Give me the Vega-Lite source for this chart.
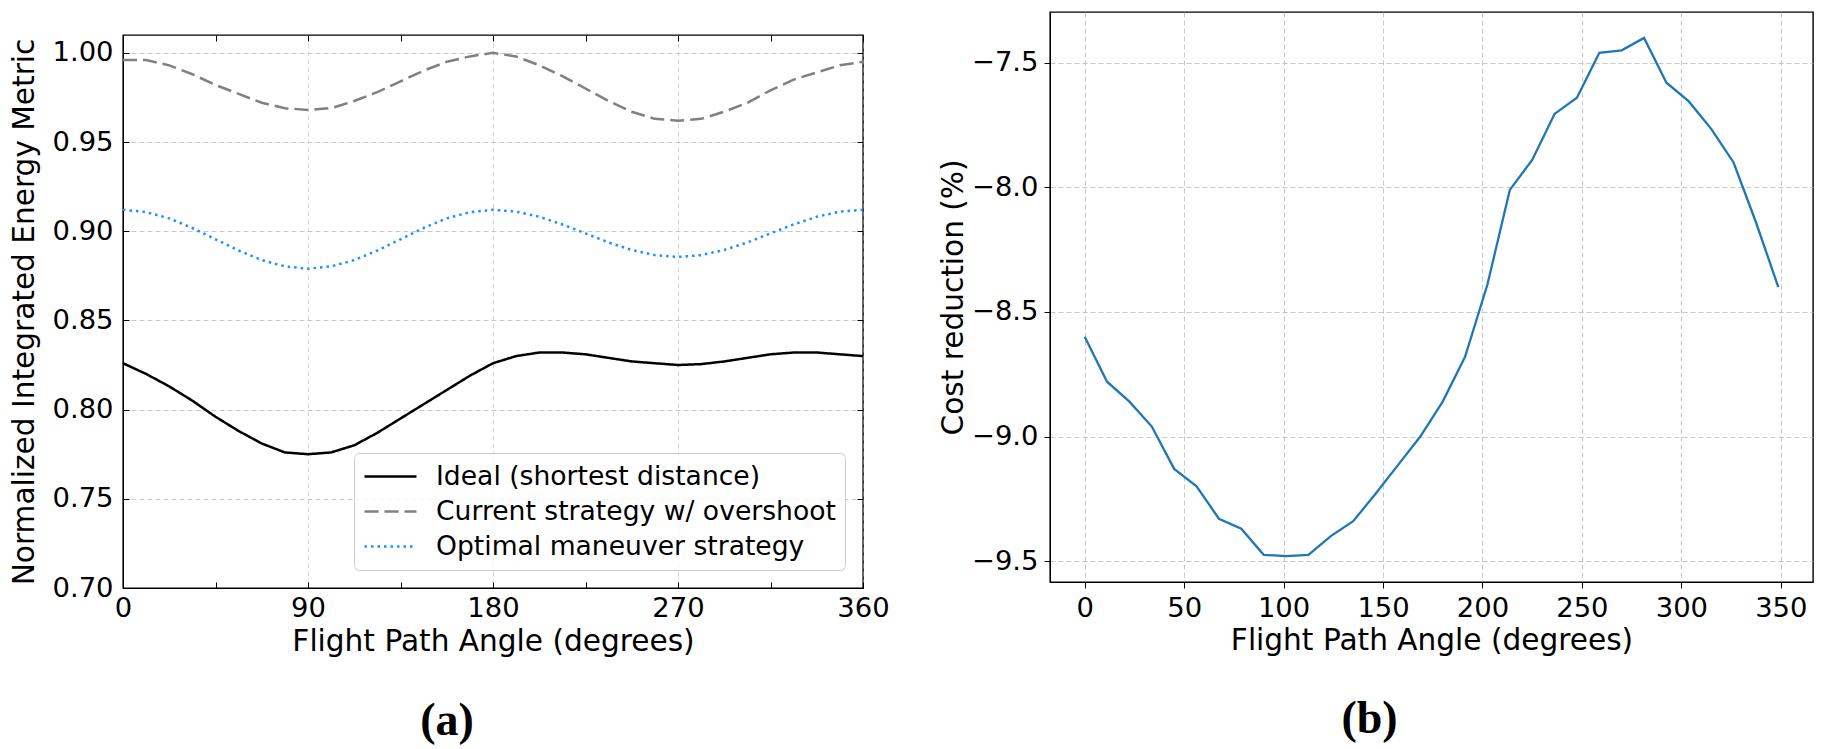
{
  "$schema": "https://vega.github.io/schema/vega-lite/v6.json",
  "background": "white",
  "padding": {"left": 8, "top": 11, "right": 0, "bottom": 0},
  "spacing": 47,
  "config": {
    "font": "DejaVu Sans",
    "view": {"stroke": "black", "strokeWidth": 1.4},
    "axis": {
      "labelFont": "DejaVu Sans",
      "titleFont": "DejaVu Sans",
      "labelFontSize": 27.4,
      "titleFontSize": 29.6,
      "titleFontWeight": "normal",
      "labelColor": "black",
      "titleColor": "black",
      "tickColor": "black",
      "domainColor": "black",
      "gridColor": "#b0b0b0",
      "gridDash": [5, 3],
      "gridOpacity": 0.7,
      "labelFlush": false,
      "labelOverlap": false
    },
    "legend": {
      "title": null,
      "orient": "none",
      "legendX": 231,
      "legendY": 441,
      "symbolType": "M-2,0H2",
      "symbolSize": 676,
      "symbolOffset": 13,
      "symbolStrokeWidth": 2.5,
      "labelFont": "DejaVu Sans",
      "labelFontSize": 26.6,
      "labelColor": "black",
      "labelOffset": 31,
      "labelLimit": 600,
      "rowPadding": 6,
      "padding": 9,
      "fillColor": "rgba(255,255,255,0.8)",
      "strokeColor": "#cccccc",
      "cornerRadius": 5
    }
  },
  "hconcat": [
    {
      "spacing": 0,
      "vconcat": [
        {
          "width": 740,
          "height": 21,
          "view": {"stroke": null},
          "data": {"values": [{}]},
          "mark": {"type": "point", "opacity": 0}
        },
        {
          "width": 740,
          "height": 553,
          "title": {"text": "(a)", "orient": "bottom", "font": "Liberation Serif", "fontWeight": "bold", "fontSize": 46, "offset": 43, "dx": -46, "color": "black"},
          "data": {
            "values": [
              {"angle": 0, "series": "Ideal (shortest distance)", "value": 0.826},
              {"angle": 11.25, "series": "Ideal (shortest distance)", "value": 0.820},
              {"angle": 22.5, "series": "Ideal (shortest distance)", "value": 0.813},
              {"angle": 33.75, "series": "Ideal (shortest distance)", "value": 0.805},
              {"angle": 45, "series": "Ideal (shortest distance)", "value": 0.796},
              {"angle": 56.25, "series": "Ideal (shortest distance)", "value": 0.788},
              {"angle": 67.5, "series": "Ideal (shortest distance)", "value": 0.781},
              {"angle": 78.75, "series": "Ideal (shortest distance)", "value": 0.776},
              {"angle": 90, "series": "Ideal (shortest distance)", "value": 0.775},
              {"angle": 101.25, "series": "Ideal (shortest distance)", "value": 0.776},
              {"angle": 112.5, "series": "Ideal (shortest distance)", "value": 0.780},
              {"angle": 123.75, "series": "Ideal (shortest distance)", "value": 0.787},
              {"angle": 135, "series": "Ideal (shortest distance)", "value": 0.795},
              {"angle": 146.25, "series": "Ideal (shortest distance)", "value": 0.803},
              {"angle": 157.5, "series": "Ideal (shortest distance)", "value": 0.811},
              {"angle": 168.75, "series": "Ideal (shortest distance)", "value": 0.819},
              {"angle": 180, "series": "Ideal (shortest distance)", "value": 0.826},
              {"angle": 191.25, "series": "Ideal (shortest distance)", "value": 0.830},
              {"angle": 202.5, "series": "Ideal (shortest distance)", "value": 0.832},
              {"angle": 213.75, "series": "Ideal (shortest distance)", "value": 0.832},
              {"angle": 225, "series": "Ideal (shortest distance)", "value": 0.831},
              {"angle": 236.25, "series": "Ideal (shortest distance)", "value": 0.829},
              {"angle": 247.5, "series": "Ideal (shortest distance)", "value": 0.827},
              {"angle": 258.75, "series": "Ideal (shortest distance)", "value": 0.826},
              {"angle": 270, "series": "Ideal (shortest distance)", "value": 0.825},
              {"angle": 281.25, "series": "Ideal (shortest distance)", "value": 0.8255},
              {"angle": 292.5, "series": "Ideal (shortest distance)", "value": 0.827},
              {"angle": 303.75, "series": "Ideal (shortest distance)", "value": 0.829},
              {"angle": 315, "series": "Ideal (shortest distance)", "value": 0.831},
              {"angle": 326.25, "series": "Ideal (shortest distance)", "value": 0.832},
              {"angle": 337.5, "series": "Ideal (shortest distance)", "value": 0.832},
              {"angle": 348.75, "series": "Ideal (shortest distance)", "value": 0.831},
              {"angle": 360, "series": "Ideal (shortest distance)", "value": 0.830},
              {"angle": 0, "series": "Current strategy w/ overshoot", "value": 0.996},
              {"angle": 11.25, "series": "Current strategy w/ overshoot", "value": 0.996},
              {"angle": 22.5, "series": "Current strategy w/ overshoot", "value": 0.993},
              {"angle": 33.75, "series": "Current strategy w/ overshoot", "value": 0.988},
              {"angle": 45, "series": "Current strategy w/ overshoot", "value": 0.982},
              {"angle": 56.25, "series": "Current strategy w/ overshoot", "value": 0.977},
              {"angle": 67.5, "series": "Current strategy w/ overshoot", "value": 0.972},
              {"angle": 78.75, "series": "Current strategy w/ overshoot", "value": 0.969},
              {"angle": 90, "series": "Current strategy w/ overshoot", "value": 0.968},
              {"angle": 101.25, "series": "Current strategy w/ overshoot", "value": 0.969},
              {"angle": 112.5, "series": "Current strategy w/ overshoot", "value": 0.973},
              {"angle": 123.75, "series": "Current strategy w/ overshoot", "value": 0.978},
              {"angle": 135, "series": "Current strategy w/ overshoot", "value": 0.984},
              {"angle": 146.25, "series": "Current strategy w/ overshoot", "value": 0.990},
              {"angle": 157.5, "series": "Current strategy w/ overshoot", "value": 0.995},
              {"angle": 168.75, "series": "Current strategy w/ overshoot", "value": 0.998},
              {"angle": 180, "series": "Current strategy w/ overshoot", "value": 1.000},
              {"angle": 191.25, "series": "Current strategy w/ overshoot", "value": 0.998},
              {"angle": 202.5, "series": "Current strategy w/ overshoot", "value": 0.993},
              {"angle": 213.75, "series": "Current strategy w/ overshoot", "value": 0.987},
              {"angle": 225, "series": "Current strategy w/ overshoot", "value": 0.980},
              {"angle": 236.25, "series": "Current strategy w/ overshoot", "value": 0.973},
              {"angle": 247.5, "series": "Current strategy w/ overshoot", "value": 0.967},
              {"angle": 258.75, "series": "Current strategy w/ overshoot", "value": 0.963},
              {"angle": 270, "series": "Current strategy w/ overshoot", "value": 0.962},
              {"angle": 281.25, "series": "Current strategy w/ overshoot", "value": 0.963},
              {"angle": 292.5, "series": "Current strategy w/ overshoot", "value": 0.967},
              {"angle": 303.75, "series": "Current strategy w/ overshoot", "value": 0.972},
              {"angle": 315, "series": "Current strategy w/ overshoot", "value": 0.979},
              {"angle": 326.25, "series": "Current strategy w/ overshoot", "value": 0.985},
              {"angle": 337.5, "series": "Current strategy w/ overshoot", "value": 0.989},
              {"angle": 348.75, "series": "Current strategy w/ overshoot", "value": 0.993},
              {"angle": 360, "series": "Current strategy w/ overshoot", "value": 0.995},
              {"angle": 0, "series": "Optimal maneuver strategy", "value": 0.9120},
              {"angle": 11.25, "series": "Optimal maneuver strategy", "value": 0.9107},
              {"angle": 22.5, "series": "Optimal maneuver strategy", "value": 0.9072},
              {"angle": 33.75, "series": "Optimal maneuver strategy", "value": 0.9018},
              {"angle": 45, "series": "Optimal maneuver strategy", "value": 0.8955},
              {"angle": 56.25, "series": "Optimal maneuver strategy", "value": 0.8892},
              {"angle": 67.5, "series": "Optimal maneuver strategy", "value": 0.8838},
              {"angle": 78.75, "series": "Optimal maneuver strategy", "value": 0.8803},
              {"angle": 90, "series": "Optimal maneuver strategy", "value": 0.8790},
              {"angle": 101.25, "series": "Optimal maneuver strategy", "value": 0.8803},
              {"angle": 112.5, "series": "Optimal maneuver strategy", "value": 0.8838},
              {"angle": 123.75, "series": "Optimal maneuver strategy", "value": 0.8892},
              {"angle": 135, "series": "Optimal maneuver strategy", "value": 0.8955},
              {"angle": 146.25, "series": "Optimal maneuver strategy", "value": 0.9018},
              {"angle": 157.5, "series": "Optimal maneuver strategy", "value": 0.9072},
              {"angle": 168.75, "series": "Optimal maneuver strategy", "value": 0.9107},
              {"angle": 180, "series": "Optimal maneuver strategy", "value": 0.9120},
              {"angle": 191.25, "series": "Optimal maneuver strategy", "value": 0.9110},
              {"angle": 202.5, "series": "Optimal maneuver strategy", "value": 0.9081},
              {"angle": 213.75, "series": "Optimal maneuver strategy", "value": 0.9038},
              {"angle": 225, "series": "Optimal maneuver strategy", "value": 0.8988},
              {"angle": 236.25, "series": "Optimal maneuver strategy", "value": 0.8937},
              {"angle": 247.5, "series": "Optimal maneuver strategy", "value": 0.8895},
              {"angle": 258.75, "series": "Optimal maneuver strategy", "value": 0.8866},
              {"angle": 270, "series": "Optimal maneuver strategy", "value": 0.8856},
              {"angle": 281.25, "series": "Optimal maneuver strategy", "value": 0.8866},
              {"angle": 292.5, "series": "Optimal maneuver strategy", "value": 0.8895},
              {"angle": 303.75, "series": "Optimal maneuver strategy", "value": 0.8937},
              {"angle": 315, "series": "Optimal maneuver strategy", "value": 0.8988},
              {"angle": 326.25, "series": "Optimal maneuver strategy", "value": 0.9038},
              {"angle": 337.5, "series": "Optimal maneuver strategy", "value": 0.9081},
              {"angle": 348.75, "series": "Optimal maneuver strategy", "value": 0.9110},
              {"angle": 360, "series": "Optimal maneuver strategy", "value": 0.9120}
            ]
          },
          "layer": [
            {
              "mark": {"type": "line", "strokeWidth": 2.5},
              "encoding": {
                "x": {
                  "field": "angle",
                  "type": "quantitative",
                  "scale": {"domain": [0, 360], "nice": false},
                  "axis": {
                    "title": "Flight Path Angle (degrees)",
                    "values": [0, 45, 90, 135, 180, 225, 270, 315, 360],
                    "labelExpr": "datum.value % 90 == 0 ? datum.label : ''",
                    "gridOpacity": {"condition": {"test": "datum.value % 90 == 0", "value": 0.7}, "value": 0},
                    "tickSize": -6,
                    "labelPadding": 12,
                    "titlePadding": 6
                  }
                },
                "y": {
                  "field": "value",
                  "type": "quantitative",
                  "scale": {"domain": [0.7, 1.01], "nice": false, "zero": false},
                  "axis": {
                    "title": "Normalized Integrated Energy Metric",
                    "values": [0.7, 0.75, 0.8, 0.85, 0.9, 0.95, 1.0],
                    "format": ".2f",
                    "tickSize": -6,
                    "labelPadding": 16,
                    "titlePadding": 12.5
                  }
                },
                "color": {
                  "field": "series",
                  "type": "nominal",
                  "scale": {
                    "domain": ["Ideal (shortest distance)", "Current strategy w/ overshoot", "Optimal maneuver strategy"],
                    "range": ["black", "#808080", "#1e90ff"]
                  }
                },
                "strokeDash": {
                  "field": "series",
                  "type": "nominal",
                  "scale": {
                    "domain": ["Ideal (shortest distance)", "Current strategy w/ overshoot", "Optimal maneuver strategy"],
                    "range": [[1, 0], [14, 6], [2.5, 4]]
                  }
                }
              }
            },
            {
              "mark": {"type": "line", "opacity": 0},
              "encoding": {
                "x": {
                  "field": "angle",
                  "type": "quantitative",
                  "axis": {
                    "orient": "top",
                    "title": null,
                    "values": [0, 45, 90, 135, 180, 225, 270, 315, 360],
                    "labels": false,
                    "grid": false,
                    "domain": false,
                    "tickSize": -6
                  }
                },
                "y": {
                  "field": "value",
                  "type": "quantitative",
                  "axis": {
                    "orient": "right",
                    "title": null,
                    "values": [0.7, 0.75, 0.8, 0.85, 0.9, 0.95, 1.0],
                    "labels": false,
                    "grid": false,
                    "domain": false,
                    "tickSize": -6
                  }
                },
                "detail": {"field": "series", "type": "nominal"}
              }
            }
          ],
          "resolve": {"axis": {"x": "independent", "y": "independent"}}
        }
      ]
    },
    {
      "width": 763,
      "height": 570,
      "title": {"text": "(b)", "orient": "bottom", "font": "Liberation Serif", "fontWeight": "bold", "fontSize": 46, "offset": 42, "dx": -62, "color": "black"},
      "data": {
        "values": [
          {"angle": 0, "reduction": -8.60},
          {"angle": 11.25, "reduction": -8.78},
          {"angle": 22.5, "reduction": -8.86},
          {"angle": 33.75, "reduction": -8.96},
          {"angle": 45, "reduction": -9.13},
          {"angle": 56.25, "reduction": -9.20},
          {"angle": 67.5, "reduction": -9.33},
          {"angle": 78.75, "reduction": -9.37},
          {"angle": 90, "reduction": -9.475},
          {"angle": 101.25, "reduction": -9.48},
          {"angle": 112.5, "reduction": -9.475},
          {"angle": 123.75, "reduction": -9.40},
          {"angle": 135, "reduction": -9.34},
          {"angle": 146.25, "reduction": -9.23},
          {"angle": 157.5, "reduction": -9.115},
          {"angle": 168.75, "reduction": -9.00},
          {"angle": 180, "reduction": -8.86},
          {"angle": 191.25, "reduction": -8.68},
          {"angle": 202.5, "reduction": -8.39},
          {"angle": 213.75, "reduction": -8.01},
          {"angle": 225, "reduction": -7.89},
          {"angle": 236.25, "reduction": -7.705},
          {"angle": 247.5, "reduction": -7.64},
          {"angle": 258.75, "reduction": -7.46},
          {"angle": 270, "reduction": -7.45},
          {"angle": 281.25, "reduction": -7.40},
          {"angle": 292.5, "reduction": -7.58},
          {"angle": 303.75, "reduction": -7.655},
          {"angle": 315, "reduction": -7.765},
          {"angle": 326.25, "reduction": -7.90},
          {"angle": 337.5, "reduction": -8.14},
          {"angle": 348.75, "reduction": -8.40}
        ]
      },
      "mark": {"type": "line", "color": "#1f77b4", "strokeWidth": 2.3},
      "encoding": {
        "x": {
          "field": "angle",
          "type": "quantitative",
          "scale": {"domain": [-17.44, 366.19], "nice": false, "zero": false},
          "axis": {
            "title": "Flight Path Angle (degrees)",
            "values": [0, 50, 100, 150, 200, 250, 300, 350],
            "tickSize": 6,
            "labelPadding": 6,
            "titlePadding": 5
          }
        },
        "y": {
          "field": "reduction",
          "type": "quantitative",
          "scale": {"domain": [-9.584, -7.296], "nice": false, "zero": false},
          "axis": {
            "title": "Cost reduction (%)",
            "values": [-9.5, -9.0, -8.5, -8.0, -7.5],
            "format": ".1f",
            "tickSize": 6,
            "labelPadding": 6,
            "titlePadding": 3
          }
        }
      }
    }
  ]
}
